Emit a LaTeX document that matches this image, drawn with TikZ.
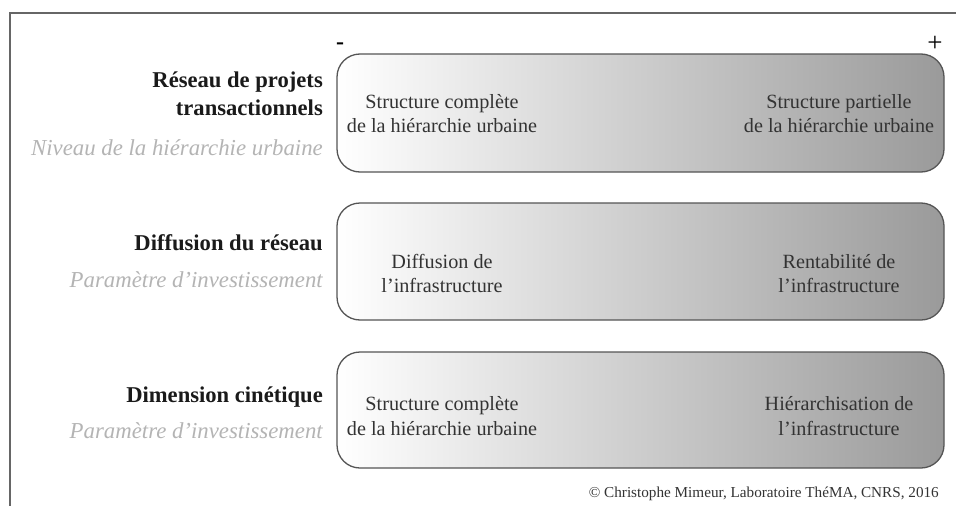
\documentclass[tikz,border=0pt]{standalone}
\usepackage{fontspec}
\setmainfont{Liberation Serif}
\definecolor{framec}{HTML}{666666}
\definecolor{boxc}{HTML}{555555}
\definecolor{boxtext}{HTML}{333333}
\definecolor{lightlab}{HTML}{B4B4B4}
\definecolor{darkend}{HTML}{9A9A9A}
\definecolor{titlec}{HTML}{1A1A1A}
\begin{document}
\begin{tikzpicture}[x=1pt,y=-1pt,
  gradbox/.style={draw=boxc, line width=1.3pt, rounded corners=23pt, left color=white, right color=darkend},
  title/.style={anchor=base east, inner sep=0pt, text=titlec, font=\fontsize{22.6}{26}\selectfont\bfseries},
  sub/.style={anchor=base east, inner sep=0pt, text=lightlab, font=\fontsize{22.8}{26}\selectfont\itshape},
  btxt/.style={anchor=base, inner sep=0pt, text=boxtext, font=\fontsize{20.2}{24}\selectfont},
  sign/.style={inner sep=0pt, text=black}]
\useasboundingbox (0,0) rectangle (956,506);
\fill[white] (0,0) rectangle (956,506);
% frame
\draw[framec, line width=1.4pt] (10,506) -- (10,13) -- (956,13);
% boxes
\path[gradbox] (337,54) rectangle (944,172);
\path[gradbox] (337,203) rectangle (944,320);
\path[gradbox] (337,352) rectangle (944,468);
\node[sign, font=\fontsize{24}{26}\selectfont\bfseries] (minus) at (340,46) {-};
\node[sign, font=\fontsize{27}{29}\selectfont] (plus) at (935,44) {+};
% labels
\node[title] (t1a) at (323,87) {Réseau de projets};
\node[title] (t1b) at (323,115) {transactionnels};
\node[sub] (s1) at (323,155) {Niveau de la hiérarchie urbaine};
\node[title] (t2) at (323,250) {Diffusion du réseau};
\node[sub] (s2) at (323,287) {Paramètre d’investissement};
\node[title] (t3) at (323,402) {Dimension cinétique};
\node[sub] (s3) at (323,438) {Paramètre d’investissement};
% box texts
\node[btxt] (b1la) at (442,108) {Structure complète};
\node[btxt] (b1lb) at (442,132) {de la hiérarchie urbaine};
\node[btxt] (b1ra) at (839,108) {Structure partielle};
\node[btxt] (b1rb) at (839,132) {de la hiérarchie urbaine};
\node[btxt] (b2la) at (442,268) {Diffusion de};
\node[btxt] (b2lb) at (442,292) {l’infrastructure};
\node[btxt] (b2ra) at (839,268) {Rentabilité de};
\node[btxt] (b2rb) at (839,292) {l’infrastructure};
\node[btxt] (b3la) at (442,410) {Structure complète};
\node[btxt] (b3lb) at (442,435) {de la hiérarchie urbaine};
\node[btxt] (b3ra) at (839,410) {Hiérarchisation de};
\node[btxt] (b3rb) at (839,435) {l’infrastructure};
% credit
\node[anchor=base east, inner sep=0pt, text=boxtext, font=\fontsize{15.2}{18}\selectfont] (credit) at (939,497) {© Christophe Mimeur, Laboratoire ThéMA, CNRS, 2016};
\end{tikzpicture}
\end{document}
